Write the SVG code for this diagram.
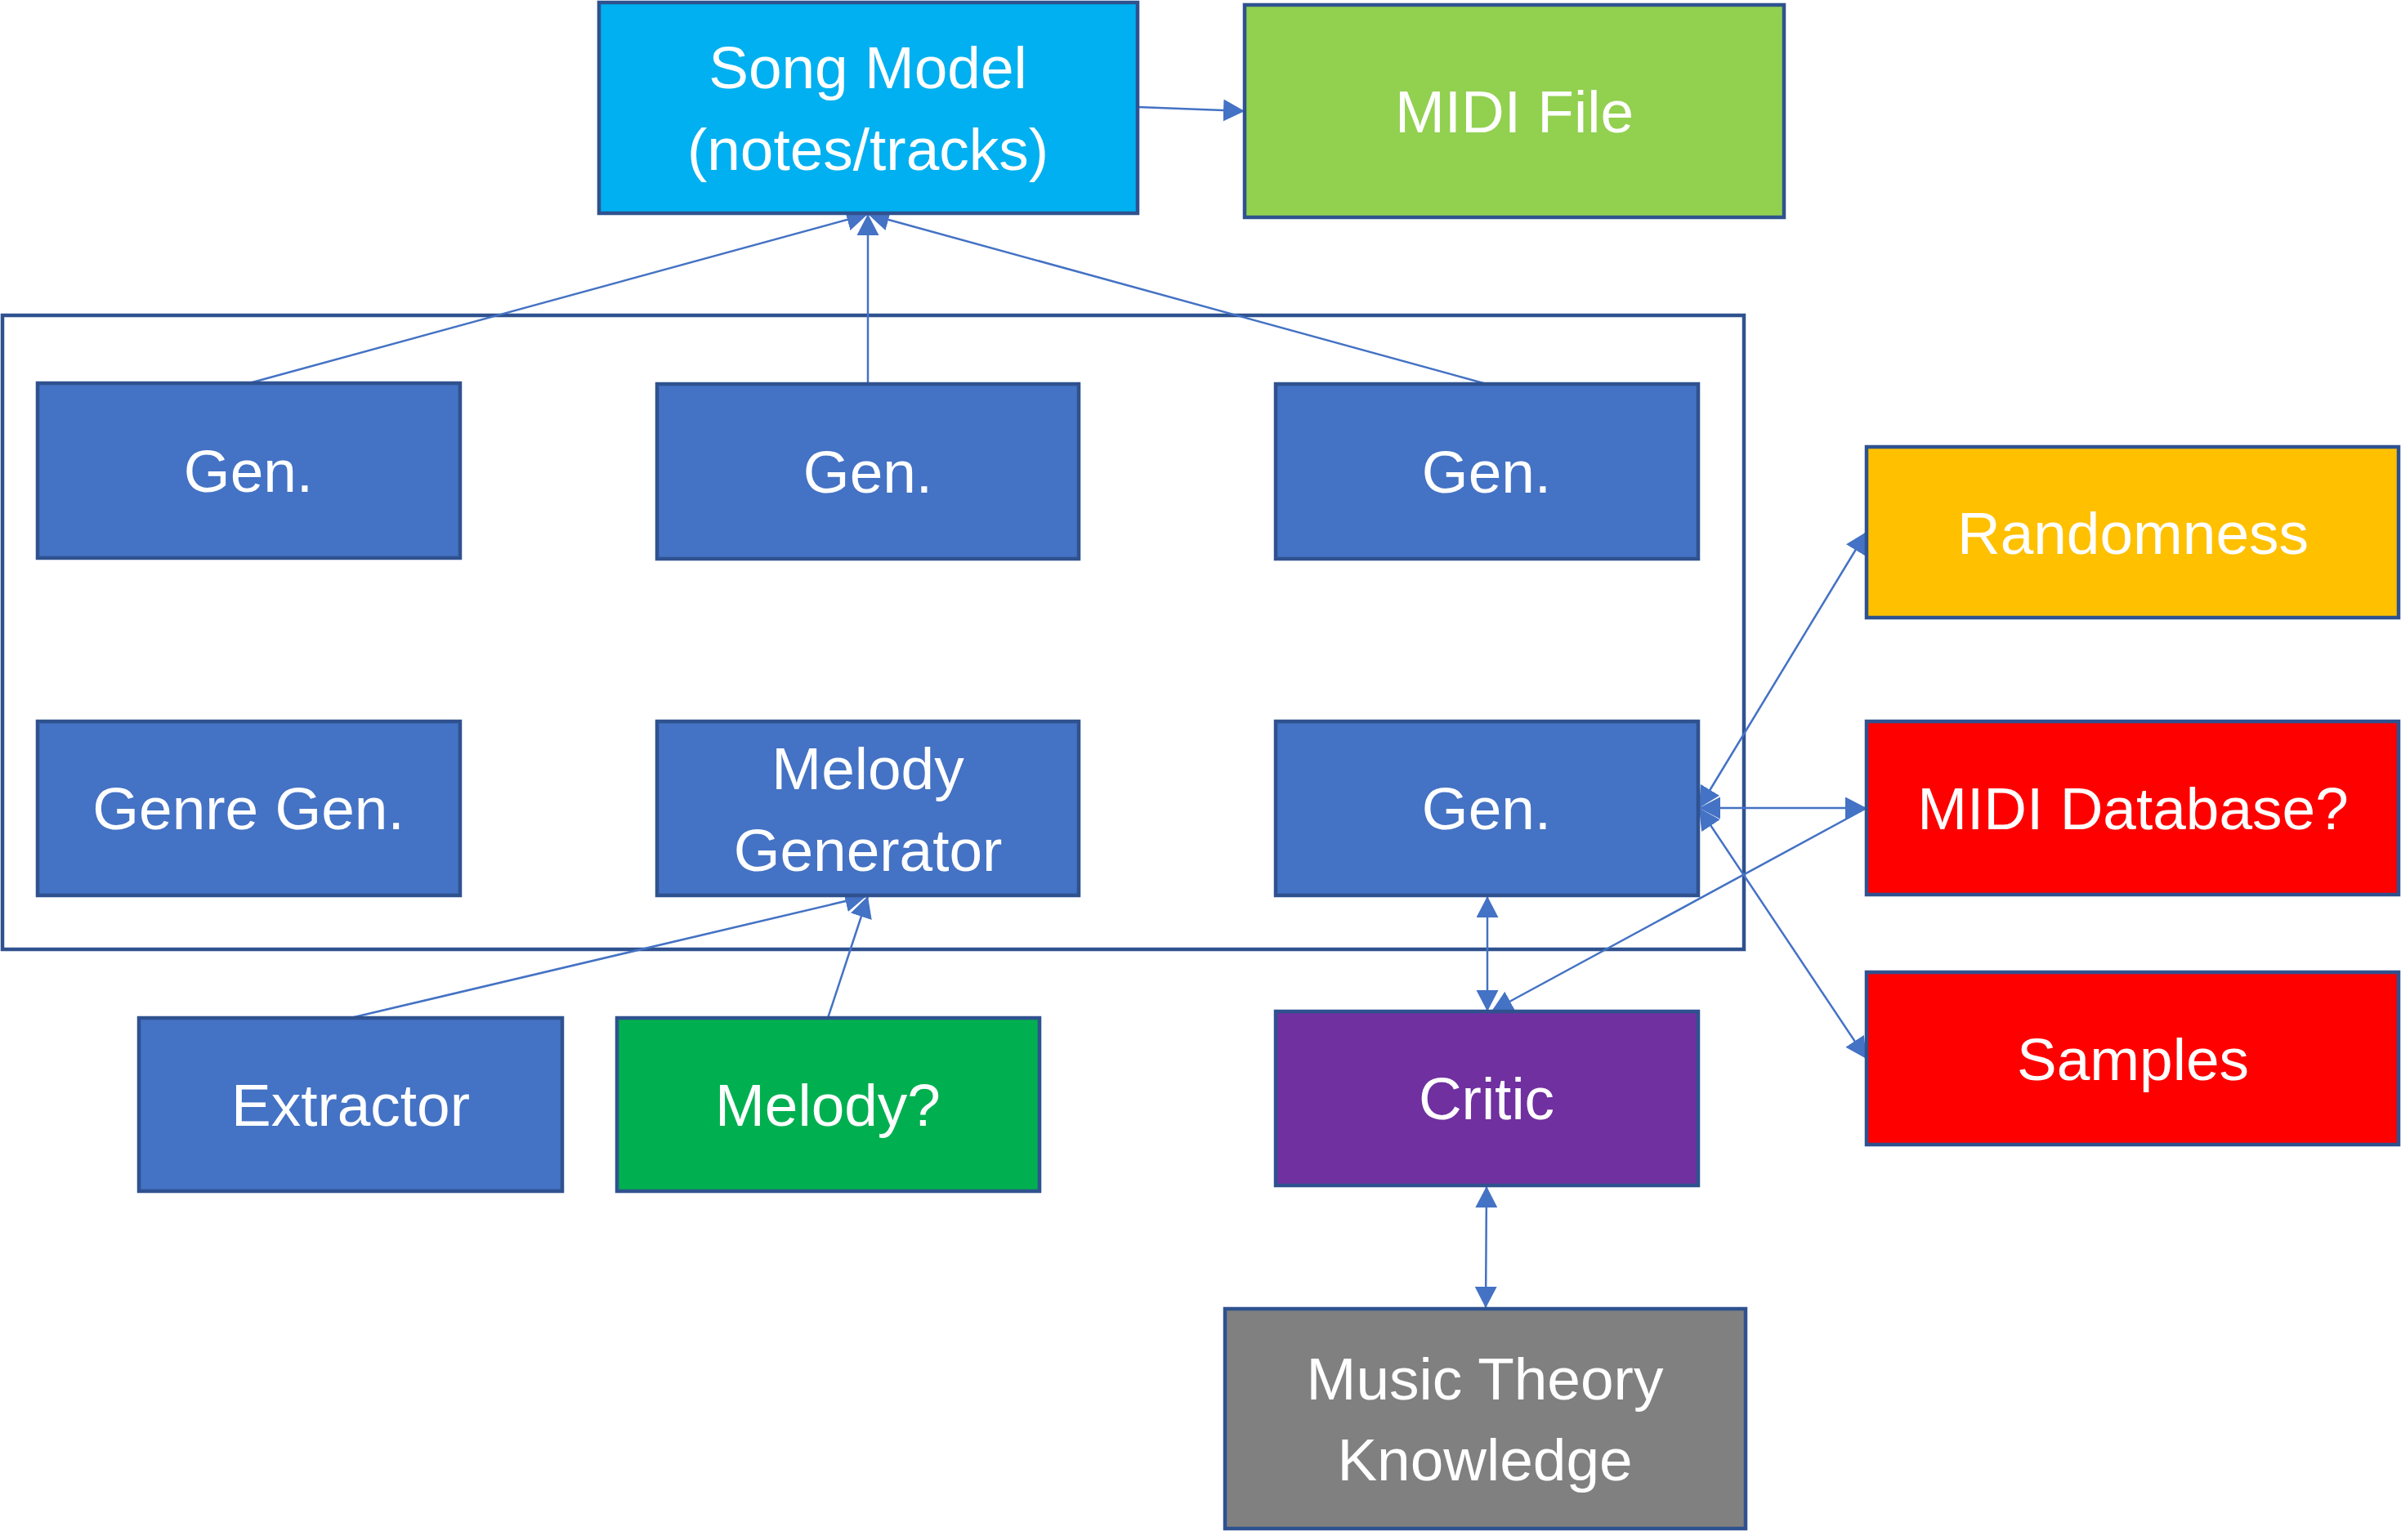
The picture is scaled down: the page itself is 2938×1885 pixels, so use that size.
<svg xmlns="http://www.w3.org/2000/svg" width="2938" height="1885" viewBox="0 0 2938 1885">
<style>
.box{stroke:#2F528F;stroke-width:4.5}
.blue{fill:#4472C4}
.lbl{font-family:"Liberation Sans",Arial,sans-serif;font-size:73px;fill:#FFFFFF;text-anchor:middle}
.conn{stroke:#4472C4;stroke-width:2.5;fill:none}
</style>
<defs>
<marker id="ah" markerUnits="userSpaceOnUse" markerWidth="28" markerHeight="28" refX="26" refY="13.5" orient="auto-start-reverse" viewBox="0 0 28 28">
<path d="M0,0 L26,13.5 L0,27 z" fill="#4472C4"/>
</marker>
</defs>
<rect width="2938" height="1885" fill="#FFFFFF"/>
<g id="container"><rect x="3" y="386" width="2131" height="776" fill="none" class="box"/></g>
<g id="connectors">
<line class="conn" x1="1392" y1="131" x2="1523" y2="136" marker-end="url(#ah)"/>
<line class="conn" x1="305" y1="469" x2="1062" y2="262" marker-end="url(#ah)"/>
<line class="conn" x1="1062" y1="470" x2="1062" y2="262" marker-end="url(#ah)"/>
<line class="conn" x1="1819" y1="470" x2="1062" y2="262" marker-end="url(#ah)"/>
<line class="conn" x1="429" y1="1246" x2="1060" y2="1097" marker-end="url(#ah)"/>
<line class="conn" x1="1013" y1="1246" x2="1062" y2="1097" marker-end="url(#ah)"/>
<line class="conn" x1="1820" y1="1097" x2="1820" y2="1238" marker-start="url(#ah)" marker-end="url(#ah)"/>
<line class="conn" x1="2079" y1="989" x2="2284" y2="651" marker-start="url(#ah)" marker-end="url(#ah)"/>
<line class="conn" x1="2079" y1="989" x2="2284" y2="989" marker-start="url(#ah)" marker-end="url(#ah)"/>
<line class="conn" x1="2079" y1="989" x2="2284" y2="1296" marker-start="url(#ah)" marker-end="url(#ah)"/>
<line class="conn" x1="2284" y1="989" x2="1825" y2="1238" marker-end="url(#ah)"/>
<line class="conn" x1="1819" y1="1452" x2="1818" y2="1601" marker-start="url(#ah)" marker-end="url(#ah)"/>
</g>
<g id="songModel"><rect class="box" x="733" y="3" width="659" height="258" fill="#00B0F0"/><text class="lbl" x="1062" y="108">Song Model</text><text class="lbl" x="1062" y="208">(notes/tracks)</text></g>
<g id="midiFile"><rect class="box" x="1523" y="6" width="660" height="260" fill="#92D050"/><text class="lbl" x="1853" y="162">MIDI File</text></g>
<g id="gen1"><rect class="box blue" x="46" y="469" width="517" height="214"/><text class="lbl" x="304" y="602">Gen.</text></g>
<g id="gen2"><rect class="box blue" x="804" y="470" width="516" height="214"/><text class="lbl" x="1062" y="603">Gen.</text></g>
<g id="gen3"><rect class="box blue" x="1561" y="470" width="517" height="214"/><text class="lbl" x="1819" y="603">Gen.</text></g>
<g id="genreGen"><rect class="box blue" x="46" y="883" width="517" height="213"/><text class="lbl" x="304" y="1015">Genre Gen.</text></g>
<g id="melodyGenerator"><rect class="box blue" x="804" y="883" width="516" height="213"/><text class="lbl" x="1062" y="966">Melody</text><text class="lbl" x="1062" y="1066">Generator</text></g>
<g id="gen4"><rect class="box blue" x="1561" y="883" width="517" height="213"/><text class="lbl" x="1819" y="1015">Gen.</text></g>
<g id="extractor"><rect class="box blue" x="170" y="1246" width="518" height="212"/><text class="lbl" x="429" y="1378">Extractor</text></g>
<g id="melodyQ"><rect class="box" x="755" y="1246" width="517" height="212" fill="#00B050"/><text class="lbl" x="1013" y="1378">Melody?</text></g>
<g id="critic"><rect class="box" x="1561" y="1238" width="517" height="213" fill="#7030A0"/><text class="lbl" x="1819" y="1370">Critic</text></g>
<g id="musicTheory"><rect class="box" x="1499" y="1602" width="637" height="269" fill="#808080"/><text class="lbl" x="1817" y="1713">Music Theory</text><text class="lbl" x="1817" y="1812">Knowledge</text></g>
<g id="randomness"><rect class="box" x="2284" y="547" width="651" height="209" fill="#FFC000"/><text class="lbl" x="2610" y="678">Randomness</text></g>
<g id="midiDatabase"><rect class="box" x="2284" y="883" width="651" height="212" fill="#FF0000"/><text class="lbl" x="2610" y="1015">MIDI Database?</text></g>
<g id="samples"><rect class="box" x="2284" y="1190" width="651" height="211" fill="#FF0000"/><text class="lbl" x="2610" y="1322">Samples</text></g>
</svg>
